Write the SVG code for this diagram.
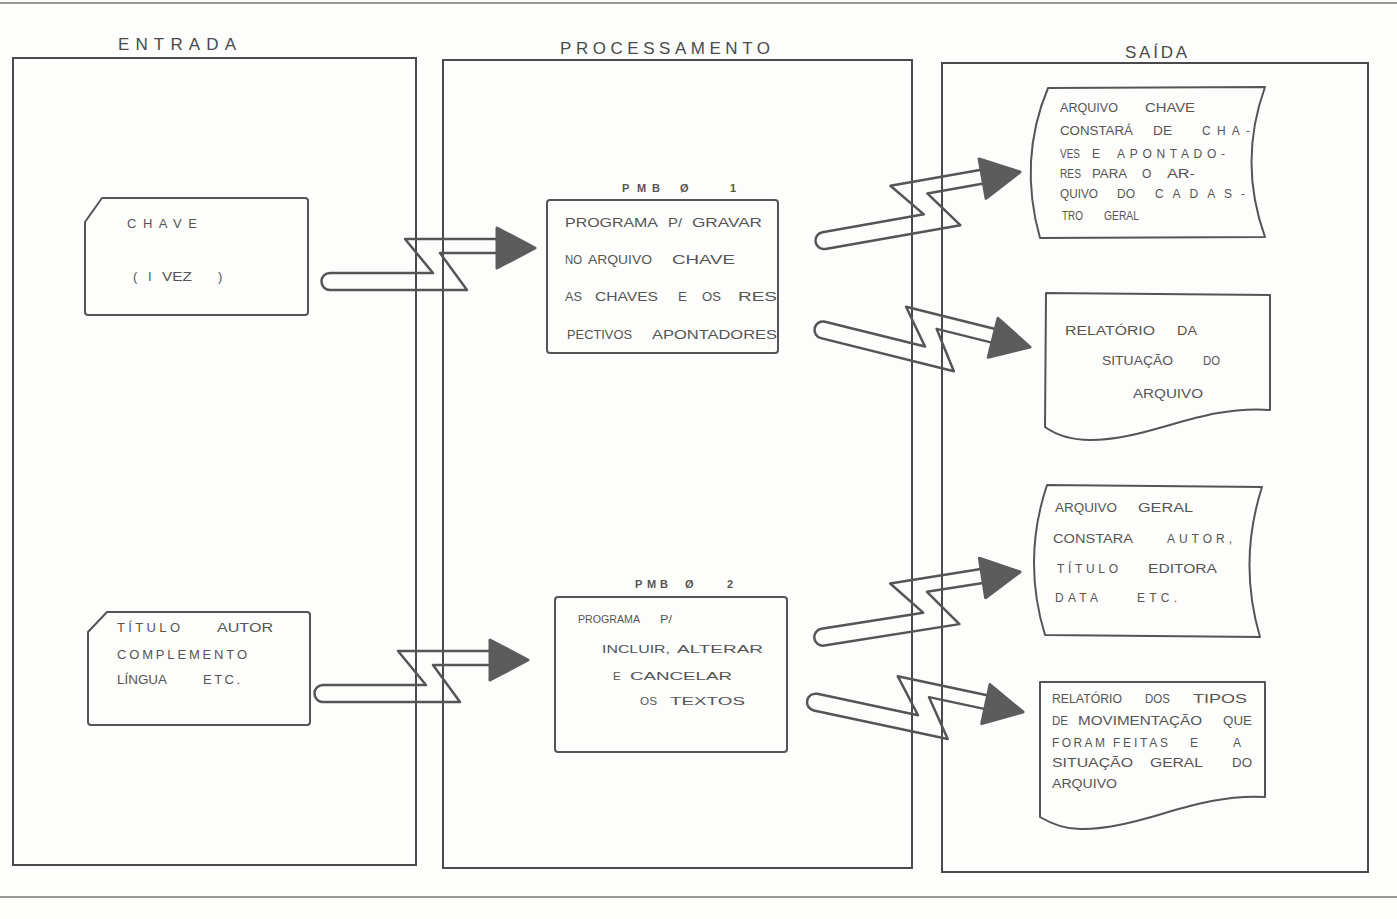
<svg xmlns="http://www.w3.org/2000/svg" width="1397" height="919" viewBox="0 0 1397 919">
<style>
.bg{fill:#fdfdfc}
.page{stroke:#777;stroke-width:1.5;fill:none}
.col{fill:none;stroke:#4a4a4a;stroke-width:2}
.shape{fill:none;stroke:#555;stroke-width:2;stroke-linejoin:round}
text{font-family:"Liberation Sans",Arial,sans-serif;fill:#555}
.h{font-size:17px;fill:#4a4a4a}
.lbl{font-size:11px;font-weight:bold}
.p{font-size:13.5px}
.p2{font-size:11.5px}
.c{font-size:13px}
.d{font-size:12px}
.band{fill:none;stroke:#555;stroke-width:2.5;stroke-linejoin:round}
.head{fill:#5c5c5c;stroke:#5c5c5c;stroke-width:3;stroke-linejoin:round}
</style>
<defs>
<g id="arrow">
<path class="band" d="M -35,-9 L -130,-9 L -102,25 L -205,25 A 8.5 8.5 0 0 0 -205,42 L -68,42 L -95,5 L -35,5"/>
<path class="head" d="M -38,-20 L 0,0 L -38,20 Z"/>
</g>
</defs>
<rect class="bg" x="0" y="0" width="1397" height="919"/>
<line class="page" x1="0" y1="3" x2="1397" y2="3"/>
<line class="page" x1="0" y1="897" x2="1397" y2="897"/>

<g id="col-entrada">
<path class="col" d="M 13,58 L 416,58 L 416,865 L 13,865 Z"/>
<text class="h" x="118" y="50" textLength="118">ENTRADA</text>
</g>
<g id="col-processamento">
<path class="col" d="M 443,60 L 912,60 L 912,868 L 443,868 Z"/>
<text class="h" x="560" y="54" textLength="210">PROCESSAMENTO</text>
</g>
<g id="col-saida">
<path class="col" d="M 942,63 L 1368,63 L 1368,872 L 942,872 Z"/>
<text class="h" x="1125" y="58" textLength="62">SAÍDA</text>
</g>

<g id="card-chave">
<path class="shape" d="M 102,198 L 305,198 Q 308,198 308,201 L 308,312 Q 308,315 305,315 L 88,315 Q 85,315 85,312 L 85,222 Z"/>
<text class="c" x="127" y="228" textLength="70">CHAVE</text>
<text class="c" x="133" y="281">(</text>
<text class="c" x="148" y="281">I</text>
<text class="c" x="162" y="281" textLength="30" lengthAdjust="spacingAndGlyphs">VEZ</text>
<text class="c" x="218" y="281">)</text>
</g>

<g id="card-titulo">
<path class="shape" d="M 107,612 L 307,612 Q 310,612 310,615 L 310,722 Q 310,725 307,725 L 91,725 Q 88,725 88,722 L 88,632 Z"/>
<text class="c" x="117" y="632" textLength="63">TÍTULO</text>
<text class="c" x="217" y="632" textLength="56" lengthAdjust="spacingAndGlyphs">AUTOR</text>
<text class="c" x="117" y="659" textLength="130">COMPLEMENTO</text>
<text class="c" x="117" y="684" textLength="50" lengthAdjust="spacingAndGlyphs">LÍNGUA</text>
<text class="c" x="203" y="684" textLength="37">ETC.</text>
</g>

<g id="pmb01">
<text class="lbl" x="622" y="192">P</text>
<text class="lbl" x="637" y="192">M</text>
<text class="lbl" x="652" y="192">B</text>
<text class="lbl" x="680" y="192">Ø</text>
<text class="lbl" x="730" y="192">1</text>
<rect class="shape" x="547" y="200" width="231" height="153" rx="3"/>
<text class="p" x="565" y="227" textLength="93" lengthAdjust="spacingAndGlyphs">PROGRAMA</text>
<text class="p" x="668" y="227" textLength="14" lengthAdjust="spacingAndGlyphs">P/</text>
<text class="p" x="692" y="227" textLength="70" lengthAdjust="spacingAndGlyphs">GRAVAR</text>
<text class="p" x="565" y="264" textLength="17" lengthAdjust="spacingAndGlyphs">NO</text>
<text class="p" x="588" y="264" textLength="64" lengthAdjust="spacingAndGlyphs">ARQUIVO</text>
<text class="p" x="672" y="264" textLength="63" lengthAdjust="spacingAndGlyphs">CHAVE</text>
<text class="p" x="565" y="301" textLength="17" lengthAdjust="spacingAndGlyphs">AS</text>
<text class="p" x="595" y="301" textLength="63" lengthAdjust="spacingAndGlyphs">CHAVES</text>
<text class="p" x="678" y="301">E</text>
<text class="p" x="702" y="301" textLength="19" lengthAdjust="spacingAndGlyphs">OS</text>
<text class="p" x="738" y="301" textLength="39" lengthAdjust="spacingAndGlyphs">RES</text>
<text class="p" x="567" y="339" textLength="65" lengthAdjust="spacingAndGlyphs">PECTIVOS</text>
<text class="p" x="652" y="339" textLength="125" lengthAdjust="spacingAndGlyphs">APONTADORES</text>
</g>

<g id="pmb02">
<text class="lbl" x="635" y="588">P</text>
<text class="lbl" x="647" y="588">M</text>
<text class="lbl" x="660" y="588">B</text>
<text class="lbl" x="685" y="588">Ø</text>
<text class="lbl" x="727" y="588">2</text>
<rect class="shape" x="555" y="597" width="232" height="155" rx="3"/>
<text class="p2" x="578" y="623" textLength="62" lengthAdjust="spacingAndGlyphs">PROGRAMA</text>
<text class="p2" x="660" y="623" textLength="12" lengthAdjust="spacingAndGlyphs">P/</text>
<text class="p2" x="602" y="653" textLength="68" lengthAdjust="spacingAndGlyphs">INCLUIR,</text>
<text class="p2" x="677" y="653" textLength="86" lengthAdjust="spacingAndGlyphs">ALTERAR</text>
<text class="p2" x="613" y="680">E</text>
<text class="p2" x="630" y="680" textLength="102" lengthAdjust="spacingAndGlyphs">CANCELAR</text>
<text class="p2" x="640" y="705" textLength="17" lengthAdjust="spacingAndGlyphs">OS</text>
<text class="p2" x="670" y="705" textLength="75" lengthAdjust="spacingAndGlyphs">TEXTOS</text>
</g>

<g id="arquivo-chave">
<path class="shape" d="M 1048,88 L 1265,87 Q 1238,162 1265,237 L 1040,238 Q 1018,160 1048,88 Z"/>
<text class="d" x="1060" y="112" textLength="58" lengthAdjust="spacingAndGlyphs">ARQUIVO</text>
<text class="d" x="1145" y="112" textLength="50" lengthAdjust="spacingAndGlyphs">CHAVE</text>
<text class="d" x="1060" y="135" textLength="73" lengthAdjust="spacingAndGlyphs">CONSTARÁ</text>
<text class="d" x="1153" y="135" textLength="19" lengthAdjust="spacingAndGlyphs">DE</text>
<text class="d" x="1202" y="135" textLength="48">CHA-</text>
<text class="d" x="1060" y="158" textLength="20" lengthAdjust="spacingAndGlyphs">VES</text>
<text class="d" x="1092" y="158">E</text>
<text class="d" x="1117" y="158" textLength="108">APONTADO-</text>
<text class="d" x="1060" y="178" textLength="21" lengthAdjust="spacingAndGlyphs">RES</text>
<text class="d" x="1092" y="178" textLength="35" lengthAdjust="spacingAndGlyphs">PARA</text>
<text class="d" x="1142" y="178">O</text>
<text class="d" x="1167" y="178" textLength="28" lengthAdjust="spacingAndGlyphs">AR-</text>
<text class="d" x="1060" y="198" textLength="38" lengthAdjust="spacingAndGlyphs">QUIVO</text>
<text class="d" x="1117" y="198" textLength="18" lengthAdjust="spacingAndGlyphs">DO</text>
<text class="d" x="1155" y="198" textLength="90">CADAS-</text>
<text class="d" x="1062" y="220" textLength="21" lengthAdjust="spacingAndGlyphs">TRO</text>
<text class="d" x="1104" y="220" textLength="35" lengthAdjust="spacingAndGlyphs">GERAL</text>
</g>

<g id="relatorio-situacao">
<path class="shape" d="M 1046,293 L 1270,295 L 1270,410 C 1200,405 1150,440 1090,440 C 1070,440 1055,434 1045,427 Z"/>
<text class="d" x="1065" y="335" textLength="90" lengthAdjust="spacingAndGlyphs">RELATÓRIO</text>
<text class="d" x="1177" y="335" textLength="20" lengthAdjust="spacingAndGlyphs">DA</text>
<text class="d" x="1102" y="365" textLength="71" lengthAdjust="spacingAndGlyphs">SITUAÇÃO</text>
<text class="d" x="1203" y="365" textLength="17" lengthAdjust="spacingAndGlyphs">DO</text>
<text class="d" x="1133" y="398" textLength="70" lengthAdjust="spacingAndGlyphs">ARQUIVO</text>
</g>

<g id="arquivo-geral">
<path class="shape" d="M 1047,485 L 1262,487 Q 1238,562 1260,637 L 1045,635 Q 1022,560 1047,485 Z"/>
<text class="d" x="1055" y="512" textLength="62" lengthAdjust="spacingAndGlyphs">ARQUIVO</text>
<text class="d" x="1138" y="512" textLength="55" lengthAdjust="spacingAndGlyphs">GERAL</text>
<text class="d" x="1053" y="543" textLength="80" lengthAdjust="spacingAndGlyphs">CONSTARA</text>
<text class="d" x="1167" y="543" textLength="65">AUTOR,</text>
<text class="d" x="1057" y="573" textLength="61">TÍTULO</text>
<text class="d" x="1148" y="573" textLength="69" lengthAdjust="spacingAndGlyphs">EDITORA</text>
<text class="d" x="1055" y="602" textLength="43">DATA</text>
<text class="d" x="1137" y="602" textLength="40">ETC.</text>
</g>

<g id="relatorio-tipos">
<path class="shape" d="M 1040,682 L 1265,682 L 1265,797 C 1195,793 1140,830 1080,829 C 1062,829 1050,823 1040,817 Z"/>
<text class="d" x="1052" y="703" textLength="70" lengthAdjust="spacingAndGlyphs">RELATÓRIO</text>
<text class="d" x="1145" y="703" textLength="25" lengthAdjust="spacingAndGlyphs">DOS</text>
<text class="d" x="1193" y="703" textLength="54" lengthAdjust="spacingAndGlyphs">TIPOS</text>
<text class="d" x="1052" y="725" textLength="16" lengthAdjust="spacingAndGlyphs">DE</text>
<text class="d" x="1078" y="725" textLength="124" lengthAdjust="spacingAndGlyphs">MOVIMENTAÇÃO</text>
<text class="d" x="1223" y="725" textLength="29" lengthAdjust="spacingAndGlyphs">QUE</text>
<text class="d" x="1052" y="747" textLength="53">FORAM</text>
<text class="d" x="1113" y="747" textLength="55">FEITAS</text>
<text class="d" x="1190" y="747">E</text>
<text class="d" x="1233" y="747">A</text>
<text class="d" x="1052" y="767" textLength="81" lengthAdjust="spacingAndGlyphs">SITUAÇÃO</text>
<text class="d" x="1150" y="767" textLength="53" lengthAdjust="spacingAndGlyphs">GERAL</text>
<text class="d" x="1232" y="767" textLength="20" lengthAdjust="spacingAndGlyphs">DO</text>
<text class="d" x="1052" y="788" textLength="65" lengthAdjust="spacingAndGlyphs">ARQUIVO</text>
</g>

<g id="connectors">
<use href="#arrow" transform="translate(535,248)"/>
<use href="#arrow" transform="translate(528,660)"/>
<use href="#arrow" transform="translate(1020,172) rotate(-10)"/>
<use href="#arrow" transform="translate(1030,347) rotate(14)"/>
<use href="#arrow" transform="translate(1020,572) rotate(-9)"/>
<use href="#arrow" transform="translate(1023,712) rotate(12)"/>
</g>
</svg>
